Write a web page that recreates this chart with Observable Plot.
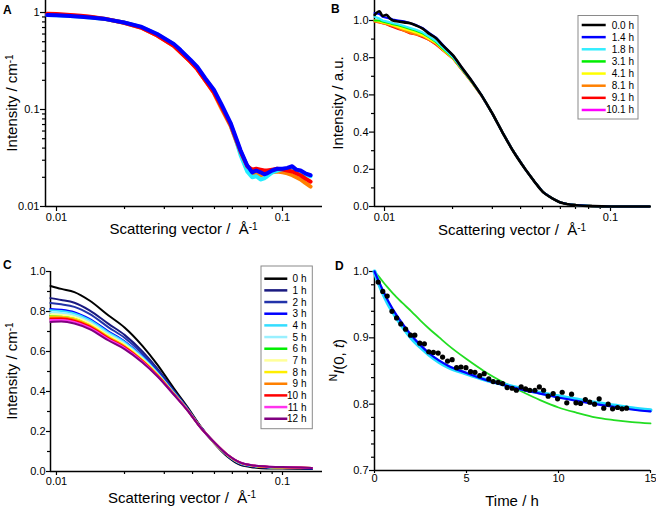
<!DOCTYPE html>
<html><head><meta charset="utf-8">
<script src="https://cdn.jsdelivr.net/npm/d3@7"></script>
<script src="https://cdn.jsdelivr.net/npm/@observablehq/plot@0.6"></script>
<style>
body{margin:0;background:#fff;}
#wrap{position:relative;width:656px;height:513px;overflow:hidden;background:#fff;}
.panel{position:absolute;}
.letter{position:absolute;font-family:"Liberation Sans",Arial,sans-serif;font-weight:bold;font-size:12px;line-height:12px;color:#000;}
</style></head><body><div id="wrap"></div>
<script>
// ---------- Panel A: absolute intensity (log-log) ----------
const qA = [0.0091, 0.0100, 0.0115, 0.0128, 0.0141, 0.0165, 0.0199, 0.0236, 0.0279, 0.0330, 0.0354, 0.0392, 0.0420, 0.0455, 0.0497, 0.0540, 0.0589, 0.0625, 0.0652, 0.0698, 0.0734, 0.0765, 0.0799, 0.0830, 0.0856, 0.0900, 0.0948, 0.1000, 0.1050, 0.1104, 0.1150, 0.1202, 0.1260, 0.1331];
const orangeA = [0.955, 0.95, 0.93, 0.915, 0.9, 0.855, 0.785, 0.70, 0.58, 0.455, 0.39, 0.31, 0.26, 0.2, 0.148, 0.1, 0.068, 0.047, 0.036, 0.025, 0.022, 0.022, 0.021, 0.0215, 0.022, 0.0225, 0.023, 0.0225, 0.022, 0.021, 0.02, 0.019, 0.0175, 0.016];
const cyanA = [0.94, 0.935, 0.92, 0.905, 0.89, 0.855, 0.79, 0.712, 0.595, 0.47, 0.405, 0.32, 0.27, 0.205, 0.155, 0.106, 0.07, 0.047, 0.034, 0.023, 0.02, 0.0205, 0.019, 0.0195, 0.0205, 0.0225, 0.0235, 0.024, 0.0245, 0.025, 0.0235, 0.023, 0.0215, 0.0205];
const redA = [0.97, 0.965, 0.945, 0.925, 0.905, 0.86, 0.785, 0.70, 0.58, 0.455, 0.39, 0.31, 0.26, 0.2, 0.15, 0.104, 0.07, 0.048, 0.037, 0.026, 0.024, 0.0245, 0.024, 0.0235, 0.0235, 0.024, 0.0245, 0.024, 0.0235, 0.023, 0.022, 0.021, 0.0195, 0.018];
const blueA = [0.94, 0.935, 0.92, 0.905, 0.89, 0.855, 0.79, 0.715, 0.60, 0.475, 0.41, 0.325, 0.275, 0.21, 0.16, 0.11, 0.073, 0.05, 0.038, 0.0265, 0.0225, 0.0235, 0.0225, 0.0215, 0.022, 0.0235, 0.0245, 0.0245, 0.025, 0.026, 0.024, 0.0235, 0.022, 0.021];

// ---------- Panel B: normalised intensity ----------
const qB = [0.00905, 0.0095, 0.0098, 0.0102, 0.0106, 0.0109, 0.0115, 0.0122, 0.013, 0.0138, 0.0148, 0.0158, 0.0169, 0.0181, 0.0201, 0.0222, 0.0245, 0.0268, 0.03, 0.0332, 0.037, 0.042, 0.046, 0.0503, 0.055, 0.0596, 0.065, 0.0707, 0.0836, 0.1, 0.12, 0.149];
const labelsB = ["0.0 h", "1.4 h", "1.8 h", "3.1 h", "4.1 h", "8.1 h", "9.1 h", "10.1 h"];
const b00 = [1.03, 1.05, 1.025, 1.03, 1.01, 1.0, 0.995, 0.99, 0.985, 0.973, 0.955, 0.928, 0.905, 0.866, 0.812, 0.74, 0.67, 0.60, 0.50, 0.40, 0.30, 0.20, 0.135, 0.077, 0.045, 0.023, 0.012, 0.007, 0.002, 0.0, 0.0, 0.0];
const b14 = [1.04, 1.035, 1.02, 1.015, 1.01, 1.005, 1.0, 0.995, 0.985, 0.975, 0.958, 0.932, 0.908, 0.87, 0.812, 0.74, 0.67, 0.60, 0.50, 0.40, 0.30, 0.20, 0.135, 0.077, 0.045, 0.023, 0.012, 0.007, 0.002, 0.0, 0.0, 0.0];
const b18 = [1.02, 1.01, 1.0, 0.995, 0.99, 0.985, 0.98, 0.97, 0.96, 0.95, 0.935, 0.912, 0.89, 0.855, 0.803, 0.735, 0.667, 0.60, 0.50, 0.40, 0.30, 0.20, 0.135, 0.077, 0.045, 0.023, 0.012, 0.007, 0.002, 0.0, 0.0, 0.0];
const b31 = [1.0, 1.0, 0.995, 0.99, 0.985, 0.98, 0.975, 0.965, 0.955, 0.945, 0.93, 0.91, 0.885, 0.85, 0.80, 0.733, 0.666, 0.60, 0.50, 0.40, 0.30, 0.20, 0.135, 0.077, 0.045, 0.023, 0.012, 0.007, 0.002, 0.0, 0.0, 0.0];
const b41 = [1.0, 0.995, 0.99, 0.985, 0.98, 0.975, 0.965, 0.955, 0.945, 0.935, 0.92, 0.90, 0.88, 0.845, 0.798, 0.732, 0.665, 0.598, 0.50, 0.40, 0.30, 0.20, 0.135, 0.077, 0.045, 0.023, 0.012, 0.007, 0.002, 0.0, 0.0, 0.0];
const b81 = [0.995, 0.99, 0.985, 0.98, 0.975, 0.97, 0.96, 0.945, 0.935, 0.925, 0.915, 0.895, 0.875, 0.84, 0.795, 0.73, 0.664, 0.598, 0.50, 0.40, 0.30, 0.20, 0.135, 0.077, 0.045, 0.023, 0.012, 0.007, 0.002, 0.0, 0.0, 0.0];
const b91 = [0.995, 0.99, 0.985, 0.98, 0.97, 0.965, 0.955, 0.945, 0.93, 0.925, 0.91, 0.895, 0.87, 0.84, 0.795, 0.73, 0.664, 0.598, 0.50, 0.40, 0.30, 0.20, 0.135, 0.077, 0.045, 0.023, 0.012, 0.007, 0.002, 0.0, 0.0, 0.0];
const b101 = [1.0, 0.995, 0.99, 0.985, 0.98, 0.97, 0.96, 0.95, 0.94, 0.93, 0.915, 0.895, 0.875, 0.842, 0.797, 0.731, 0.665, 0.598, 0.50, 0.40, 0.30, 0.20, 0.135, 0.077, 0.045, 0.023, 0.012, 0.007, 0.002, 0.0, 0.0, 0.0];

// ---------- Panel C: intensity over 12 h ----------
const qC = [0.0094, 0.0105, 0.012, 0.014, 0.017, 0.02, 0.024, 0.028, 0.033, 0.038, 0.043, 0.05, 0.057, 0.065, 0.075, 0.085, 0.1, 0.12, 0.135];
const labelsC = ["0 h", "1 h", "2 h", "3 h", "4 h", "5 h", "6 h", "7 h", "8 h", "9 h", "10 h", "11 h", "12 h"];
const c0 = [0.928, 0.913, 0.897, 0.855, 0.78, 0.72, 0.628, 0.533, 0.417, 0.322, 0.232, 0.14, 0.075, 0.033, 0.02, 0.015, 0.015, 0.014, 0.013];
const c1 = [0.867, 0.858, 0.844, 0.806, 0.738, 0.683, 0.60, 0.513, 0.406, 0.316, 0.230, 0.142, 0.079, 0.037, 0.024, 0.019, 0.017, 0.016, 0.015];
const c2 = [0.843, 0.836, 0.823, 0.788, 0.721, 0.669, 0.589, 0.505, 0.402, 0.314, 0.229, 0.142, 0.080, 0.039, 0.025, 0.020, 0.018, 0.017, 0.015];
const c3 = [0.813, 0.809, 0.797, 0.763, 0.70, 0.651, 0.575, 0.495, 0.396, 0.311, 0.227, 0.143, 0.082, 0.041, 0.027, 0.022, 0.020, 0.018, 0.016];
const c4 = [0.806, 0.802, 0.79, 0.758, 0.695, 0.647, 0.572, 0.493, 0.395, 0.310, 0.227, 0.144, 0.082, 0.041, 0.027, 0.022, 0.020, 0.018, 0.017];
const c5 = [0.795, 0.792, 0.781, 0.749, 0.688, 0.64, 0.567, 0.489, 0.393, 0.309, 0.227, 0.144, 0.083, 0.042, 0.028, 0.023, 0.020, 0.019, 0.017];
const c6 = [0.78, 0.779, 0.768, 0.738, 0.678, 0.631, 0.56, 0.485, 0.390, 0.308, 0.226, 0.144, 0.083, 0.043, 0.028, 0.023, 0.021, 0.019, 0.017];
const c7 = [0.786, 0.784, 0.773, 0.742, 0.681, 0.635, 0.562, 0.487, 0.391, 0.308, 0.226, 0.144, 0.083, 0.043, 0.028, 0.023, 0.021, 0.019, 0.017];
const c8 = [0.775, 0.774, 0.764, 0.733, 0.674, 0.628, 0.557, 0.483, 0.389, 0.307, 0.226, 0.144, 0.084, 0.043, 0.029, 0.024, 0.021, 0.019, 0.017];
const c9 = [0.770, 0.770, 0.759, 0.729, 0.67, 0.625, 0.555, 0.481, 0.389, 0.307, 0.226, 0.145, 0.084, 0.044, 0.029, 0.024, 0.021, 0.019, 0.018];
const c10 = [0.764, 0.765, 0.754, 0.725, 0.666, 0.622, 0.552, 0.480, 0.388, 0.306, 0.226, 0.145, 0.084, 0.044, 0.029, 0.024, 0.021, 0.020, 0.018];
const c11 = [0.757, 0.758, 0.748, 0.719, 0.661, 0.617, 0.549, 0.477, 0.386, 0.306, 0.225, 0.145, 0.085, 0.045, 0.030, 0.025, 0.022, 0.020, 0.018];
const c12 = [0.748, 0.75, 0.74, 0.712, 0.655, 0.612, 0.545, 0.475, 0.385, 0.305, 0.225, 0.145, 0.085, 0.045, 0.03, 0.025, 0.022, 0.02, 0.018];

// ---------- Panel D: normalised I(0,t) ----------
const tD = [0.2, 0.45, 0.69, 0.95, 1.2, 1.43, 1.69, 1.96, 2.19, 2.46, 2.71, 2.95, 3.2, 3.46, 3.7, 3.97, 4.22, 4.46, 4.7, 4.97, 5.22, 5.46, 5.72, 5.96, 6.21, 6.45, 6.72, 6.96, 7.21, 7.48, 7.71, 7.97, 8.21, 8.44, 8.72, 8.96, 9.19, 9.44, 9.71, 9.95, 10.2, 10.45, 10.71, 10.95, 11.2, 11.46, 11.7, 11.96, 12.21, 12.46, 12.7, 12.94, 13.21, 13.45, 13.7];
const vD = [0.984, 0.970, 0.963, 0.940, 0.930, 0.921, 0.913, 0.904, 0.904, 0.892, 0.891, 0.879, 0.878, 0.877, 0.871, 0.865, 0.867, 0.855, 0.856, 0.855, 0.849, 0.848, 0.843, 0.846, 0.838, 0.834, 0.833, 0.831, 0.825, 0.824, 0.821, 0.826, 0.823, 0.821, 0.821, 0.826, 0.821, 0.812, 0.816, 0.808, 0.818, 0.802, 0.815, 0.802, 0.801, 0.807, 0.803, 0.800, 0.808, 0.794, 0.800, 0.793, 0.795, 0.793, 0.794];
const tFit = [0, 0.25, 0.5, 0.75, 1, 1.5, 2, 2.5, 3, 3.5, 4, 5, 6, 7, 8, 9, 10, 11, 12, 13, 14, 15];
const greenFit = [1.0, 0.992, 0.983, 0.975, 0.967, 0.953, 0.940, 0.926, 0.913, 0.901, 0.889, 0.868, 0.849, 0.833, 0.819, 0.806, 0.795, 0.787, 0.780, 0.776, 0.773, 0.771];
const cyanFit = [1.0, 0.981, 0.965, 0.951, 0.939, 0.918, 0.900, 0.886, 0.874, 0.864, 0.856, 0.846, 0.837, 0.830, 0.823, 0.817, 0.812, 0.807, 0.802, 0.798, 0.794, 0.791];
const blueFit = [1.0, 0.984, 0.969, 0.955, 0.943, 0.922, 0.904, 0.889, 0.876, 0.866, 0.858, 0.847, 0.837, 0.829, 0.822, 0.816, 0.810, 0.805, 0.800, 0.796, 0.792, 0.789];

// ---------- ticks ----------
const majorQ = [0.01, 0.1];
const minorQ = [0.02, 0.03, 0.04, 0.05, 0.06, 0.07, 0.08, 0.09];
const majorLogI = [0.01, 0.1, 1];
const minorLogI = [0.02, 0.03, 0.04, 0.05, 0.06, 0.07, 0.08, 0.09, 0.2, 0.3, 0.4, 0.5, 0.6, 0.7, 0.8, 0.9];
const majorLin = [0, 0.2, 0.4, 0.6, 0.8, 1.0];
const minorLin = [0.1, 0.3, 0.5, 0.7, 0.9];
const majorDy = [0.7, 0.8, 0.9, 1.0];
const minorDy = [0.72, 0.74, 0.76, 0.78, 0.82, 0.84, 0.86, 0.88, 0.92, 0.94, 0.96, 0.98];
const majorDx = [0, 5, 10, 15];
const panelLetters = ["A", "B", "C", "D"];

// ---------- styles ----------
const FONT = '"Liberation Sans", Arial, Helvetica, sans-serif';
const colorsA = {orange: "#ff8000", cyan: "#22eeff", red: "#ff0000", blue: "#0000ff"};
const colorsB = ["#000000", "#0000ff", "#33eeff", "#00ee00", "#ffff00", "#ff8000", "#ff0000", "#ff00ff"];
const colorsC = ["#000000", "#1a1a80", "#2233aa", "#0000ff", "#33ddff", "#99f0ff", "#00ee00", "#ffff99", "#ffee00", "#ff8000", "#ff0000", "#ff33ee", "#800080"];
const baseStyle = {fontFamily: FONT, fontSize: "11px", color: "black", background: "transparent", overflow: "visible"};
const wrap = document.getElementById("wrap");

function place(svg, left, top) {
  const d = document.createElement("div");
  d.className = "panel"; d.style.left = left + "px"; d.style.top = top + "px";
  d.appendChild(svg); wrap.appendChild(d);
  return d3.select(svg);
}
function seriesLine(xs, ys, color, w, curve) {
  return Plot.line(ys.map((v, i) => ({x: xs[i], y: v})), {x: "x", y: "y", stroke: color, strokeWidth: w, curve: curve || "linear"});
}
function axes(xMaj, xMin, yMaj, yMin, xFmt, yFmt, xd, yd, tx, ty) {
  const m = [
    Plot.axisX({ticks: xMaj, tickSize: tx[0], tickPadding: tx[1], tickFormat: xFmt, label: null, strokeWidth: 1.2}),
    Plot.axisY({ticks: yMaj, tickSize: ty[0], tickPadding: ty[1], tickFormat: yFmt, label: null, strokeWidth: 1.2}),
    Plot.ruleX([xd[0]], {stroke: "black", strokeWidth: 1.5}),
    Plot.ruleY([yd[0]], {stroke: "black", strokeWidth: 1.5})
  ];
  if (xMin) m.push(Plot.axisX({ticks: xMin, tickSize: 3, tickFormat: () => "", label: null, strokeWidth: 1.2}));
  if (yMin) m.push(Plot.axisY({ticks: yMin, tickSize: 3, tickFormat: () => "", label: null, strokeWidth: 1.2}));
  return m;
}
function xTitle(sel, cx, y, main, sup) {
  const t = sel.append("text").attr("x", cx).attr("y", y).attr("text-anchor", "middle")
    .attr("font-family", FONT).attr("font-size", 15).attr("fill", "black");
  t.append("tspan").text(main);
  if (sup) t.append("tspan").attr("dy", "-0.45em").attr("font-size", 10).text(sup);
  return t;
}
function yTitle(sel, x, cy, parts) {
  const t = sel.append("text").attr("transform", `translate(${x},${cy}) rotate(-90)`).attr("text-anchor", "middle")
    .attr("font-family", FONT).attr("font-size", 15).attr("fill", "black");
  for (const p of parts) {
    const s = t.append("tspan").text(p.text);
    if (p.dy) s.attr("dy", p.dy);
    if (p.size) s.attr("font-size", p.size);
    if (p.italic) s.attr("font-style", "italic");
  }
  return t;
}
function letter(left, top, s) {
  const d = document.createElement("div");
  d.className = "letter"; d.style.left = left + "px"; d.style.top = top + "px";
  d.textContent = s; wrap.appendChild(d);
}
function legend(sel, box, rowY0, rowStep, lineX, textX, labels, colors) {
  const g = sel.append("g");
  g.append("rect").attr("x", box[0]).attr("y", box[1]).attr("width", box[2]).attr("height", box[3])
    .attr("fill", "white").attr("stroke", "#8a8a8a").attr("stroke-width", 1);
  labels.forEach((lab, i) => {
    const y = rowY0 + rowStep * i;
    g.append("line").attr("x1", lineX[0]).attr("x2", lineX[1]).attr("y1", y).attr("y2", y)
      .attr("stroke", colors[i]).attr("stroke-width", 2.5);
    g.append("text").attr("x", textX).attr("y", y).attr("dy", "0.35em").attr("text-anchor", "end")
      .attr("font-family", FONT).attr("font-size", 10).attr("fill", "black").text(lab);
  });
}
const fmt1 = d3.format(".1f");

// ---------- Panel A ----------
const xdA = [0.00894, 0.1503], ydA = [0.01, 1.33];
const svgA = Plot.plot({
  width: 328, height: 256, marginLeft: 45, marginRight: 6, marginTop: 0, marginBottom: 50,
  style: baseStyle,
  x: {type: "log", domain: xdA, label: null},
  y: {type: "log", domain: ydA, label: null},
  marks: [
    ...axes(majorQ, minorQ, majorLogI, minorLogI, d => String(d), d => String(d), xdA, ydA, [5, 2], [5, 1]),
    seriesLine(qA, orangeA, colorsA.orange, 4),
    seriesLine(qA, cyanA, colorsA.cyan, 4),
    seriesLine(qA, redA, colorsA.red, 4),
    seriesLine(qA, blueA, colorsA.blue, 4)
  ]
});
const sA = place(svgA, 0, 0);
xTitle(sA, 183.5, 234, "Scattering vector /\u00a0 Å", "-1");
yTitle(sA, 17, 103, [{text: "Intensity / cm"}, {text: "-1", dy: "-0.45em", size: 10}]);

// ---------- Panel B ----------
const xdB = [0.00903, 0.1503], ydB = [0, 1.1075];
const bSeries = [b00, b14, b18, b31, b41, b81, b91, b101];
const svgB = Plot.plot({
  width: 328, height: 256, marginLeft: 46, marginRight: 6, marginTop: 0, marginBottom: 50,
  style: baseStyle,
  x: {type: "log", domain: xdB, label: null},
  y: {domain: ydB, label: null},
  marks: [
    ...axes(majorQ, minorQ, majorLin, minorLin, d => String(d), fmt1, xdB, ydB, [5, 2], [5, 1]),
    ...[7, 6, 5, 4, 3, 2, 1].map(i => seriesLine(qB, bSeries[i], colorsB[i], 2.2)),
    seriesLine(qB, bSeries[0], colorsB[0], 2.6, "monotone-x")
  ]
});
const sB = place(svgB, 328, 0);
xTitle(sB, 184, 235, "Scattering vector /\u00a0 Å", "-1");
yTitle(sB, 15, 103, [{text: "Intensity / a.u."}]);
legend(sB, [250, 15.5, 60, 103.5], 25, 12.14, [253.7, 277.7], 306, labelsB, colorsB);

// ---------- Panel C ----------
const xdC = [0.00941, 0.1503], ydC = [0, 1.0];
const cSeries = [c0, c1, c2, c3, c4, c5, c6, c7, c8, c9, c10, c11, c12];
const svgC = Plot.plot({
  width: 328, height: 257, marginLeft: 50, marginRight: 6, marginTop: 15, marginBottom: 42,
  style: baseStyle,
  x: {type: "log", domain: xdC, label: null},
  y: {domain: ydC, label: null},
  marks: [
    ...axes(majorQ, minorQ, majorLin, minorLin, d => String(d), fmt1, xdC, ydC, [4, 2], [4, 1]),
    ...cSeries.map((s, i) => seriesLine(qC, s, colorsC[i], 2, "monotone-x"))
  ]
});
const sC = place(svgC, 0, 256);
xTitle(sC, 182, 246.5, "Scattering vector /\u00a0 Å", "-1");
yTitle(sC, 17, 115, [{text: "Intensity / cm"}, {text: "-1", dy: "-0.45em", size: 10}]);
legend(sC, [261, 10, 51.3, 162.7], 22.7, 11.67, [264.3, 287.3], 306.5, labelsC, colorsC);

// ---------- Panel D ----------
const xdD = [0, 15], ydD = [0.7, 1.0];
const svgD = Plot.plot({
  width: 328, height: 257, marginLeft: 46, marginRight: 6, marginTop: 15, marginBottom: 43,
  style: baseStyle,
  x: {domain: xdD, label: null},
  y: {domain: ydD, label: null},
  marks: [
    ...axes(majorDx, null, majorDy, minorDy, d => String(d), fmt1, xdD, ydD, [3, 1], [5, 1]),
    seriesLine(tFit, greenFit, "#22dd22", 1.8, "monotone-x"),
    seriesLine(tFit, cyanFit, "#22ddff", 4, "monotone-x"),
    seriesLine(tFit, blueFit, "#0000ff", 2.2, "monotone-x"),
    Plot.dot(tD.map((t, i) => ({t, v: vD[i]})), {x: "t", y: "v", r: 2.6, fill: "black", stroke: "none"})
  ]
});
const sD = place(svgD, 328, 256);
xTitle(sD, 184, 250, "Time / h");
yTitle(sD, 13.5, 104, [{text: "N", dy: "-0.45em", size: 10}, {text: "I", dy: "0.45em", italic: true}, {text: "(0, "}, {text: "t", italic: true}, {text: ")"}]);

// panel letters
letter(3, 4, panelLetters[0]);
letter(331, 3, panelLetters[1]);
letter(3, 259, panelLetters[2]);
letter(335, 260, panelLetters[3]);
</script>
</body></html>
